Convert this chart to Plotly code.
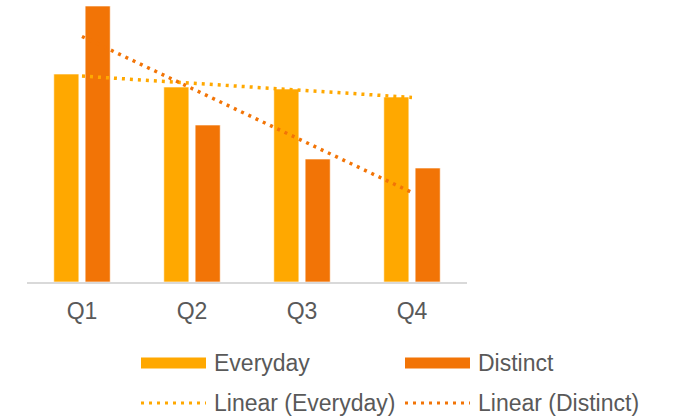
import numpy as np
import plotly.graph_objects as go

quarters = ["Q1", "Q2", "Q3", "Q4"]
everyday = [2.08, 1.95, 1.93, 1.85]
distinct = [2.76, 1.57, 1.23, 1.14]

C_EVERY = "#FFA800"
C_DIST = "#F27406"
TXT = "#595959"
FONT = "Liberation Sans, Arial, sans-serif"

xi = np.arange(len(quarters))
fit_e = np.polyval(np.polyfit(xi, everyday, 1), xi)
fit_d = np.polyval(np.polyfit(xi, distinct, 1), xi)

fig = go.Figure()
fig.add_bar(x=quarters, y=everyday, name="Everyday", marker=dict(color=C_EVERY, line=dict(color="rgba(255,255,255,0.6)", width=1)))
fig.add_bar(x=quarters, y=distinct, name="Distinct", marker=dict(color=C_DIST, line=dict(color="rgba(255,255,255,0.6)", width=1)))
fig.add_scatter(x=quarters, y=fit_e, mode="lines", name="Linear (Everyday)",
                line=dict(color=C_EVERY, width=3.5, dash="3px,5px"))
fig.add_scatter(x=quarters, y=fit_d, mode="lines", name="Linear (Distinct)",
                line=dict(color=C_DIST, width=3.5, dash="3px,5px"))

# manual legend (wide swatches like the original)
L, T, W, H = 27, 2, 440, 280
def px(x):
    return (x - L) / W
def py(y):
    return (T + H - y) / H

legend = [
    ("Everyday", C_EVERY, "bar", 141, 363),
    ("Distinct", C_DIST, "bar", 405, 363),
    ("Linear (Everyday)", C_EVERY, "line", 141, 403),
    ("Linear (Distinct)", C_DIST, "line", 405, 403),
]
for label, col, kind, x0, yc in legend:
    if kind == "bar":
        fig.add_shape(type="rect", xref="paper", yref="paper",
                      x0=px(x0), x1=px(x0 + 65), y0=py(yc + 5.5), y1=py(yc - 5.5),
                      fillcolor=col, line=dict(width=0))
    else:
        fig.add_shape(type="line", xref="paper", yref="paper",
                      x0=px(x0), x1=px(x0 + 65), y0=py(yc), y1=py(yc),
                      line=dict(color=col, width=3, dash="3px,5px"))
    fig.add_annotation(text=label, xref="paper", yref="paper", x=px(x0 + 71), y=py(yc),
                       xanchor="left", yanchor="middle", showarrow=False,
                       font=dict(size=23, color=TXT, family=FONT))

fig.update_layout(
    width=686, height=418,
    margin=dict(l=L, r=686 - L - W, t=T, b=418 - T - H),
    paper_bgcolor="white", plot_bgcolor="white",
    barmode="group", bargap=0.43, bargroupgap=0.2,
    showlegend=False,
    font=dict(family=FONT, color=TXT),
)
fig.update_xaxes(showline=True, linecolor="#D9D9D9", linewidth=1.5, showgrid=False,
                 ticks="", tickfont=dict(size=23, color=TXT), ticklabelstandoff=8)
fig.update_yaxes(range=[0, 2.8], visible=False, showgrid=False)

fig.write_html("out.html")
